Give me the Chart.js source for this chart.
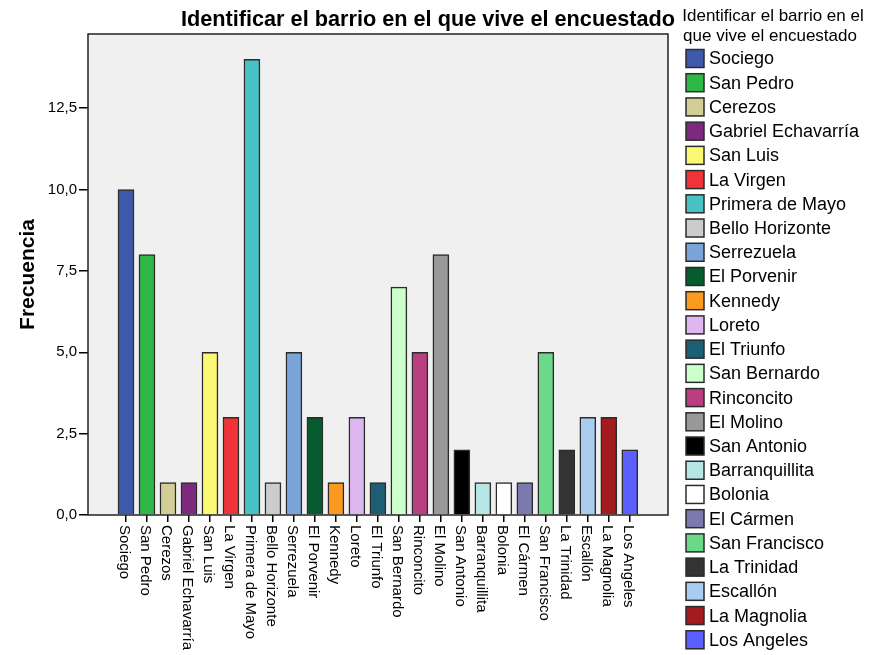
<!DOCTYPE html>
<html>
<head>
<meta charset="utf-8">
<script src="https://cdn.jsdelivr.net/npm/chart.js@4/dist/chart.umd.min.js"></script>
<style>
body{margin:0;background:#fff;}
#wrap{width:874px;height:655px;}
</style>
</head>
<body>
<div id="wrap"><canvas id="barrioChart" width="874" height="655"></canvas></div>
<script>
// frecuencia por barrio
const barrios = ['Sociego','San Pedro','Cerezos','Gabriel Echavarría','San Luis','La Virgen','Primera de Mayo','Bello Horizonte','Serrezuela','El Porvenir','Kennedy','Loreto','El Triunfo','San Bernardo','Rinconcito','El Molino','San Antonio','Barranquillita','Bolonia','El Cármen','San Francisco','La Trinidad','Escallón','La Magnolia','Los Angeles'];
const frecuencias = [10,8,1,1,5,3,14,1,5,3,1,3,1,7,5,8,2,1,1,1,5,2,3,3,2];
const colores = ['#3e58ac','#2eb848','#d3ce97','#7b2a7e','#fbf873','#ef3338','#48c2c5','#cccccc','#7ba4d9','#065b2f','#fa9a1e','#deb7f0','#1c5e73','#ccffcc','#b93f80','#999999','#000000','#b6e6e6','#ffffff','#7b7aae','#6bd88a','#333333','#aacdef','#a31a1f','#5a5ffe'];
const yTicks = [0,2.5,5,7.5,10,12.5];
const titulo = 'Identificar el barrio en el que vive el encuestado';
const leyendaTitulo = ['Identificar el barrio en el','que vive el encuestado'];

const FONT = '"Liberation Sans", Arial, sans-serif';

// fondo gris, marco, etiquetas giradas, titulo y leyenda
const extras = {
  id:'extras',
  beforeDraw(chart){
    const {ctx, chartArea:a} = chart;
    ctx.save();
    ctx.fillStyle = '#f0f0f0';
    ctx.fillRect(a.left, a.top, a.right-a.left, a.bottom-a.top);
    ctx.restore();
  },
  afterDraw(chart){
    const {ctx, chartArea:a} = chart;
    const xs = chart.scales.x;
    ctx.save();
    ctx.strokeStyle = '#222'; ctx.lineWidth = 1.5;
    ctx.strokeRect(a.left, a.top, a.right-a.left, a.bottom-a.top);

    // etiquetas del eje x, leidas de arriba hacia abajo
    ctx.fillStyle = '#000';
    ctx.font = '15px ' + FONT;
    ctx.textAlign = 'left'; ctx.textBaseline = 'middle';
    barrios.forEach((b,i)=>{
      const x = xs.getPixelForValue(i);
      ctx.save();
      ctx.translate(x-2, a.bottom+10);
      ctx.rotate(Math.PI/2);
      ctx.fillText(b, 0, 0);
      ctx.restore();
    });

    // titulo
    ctx.font = 'bold 21.7px ' + FONT;
    ctx.textAlign = 'center'; ctx.textBaseline = 'alphabetic';
    ctx.fillText(titulo, 428, 26);

    // leyenda
    ctx.font = '17px ' + FONT;
    ctx.fillText(leyendaTitulo[0], 773, 21);
    ctx.fillText(leyendaTitulo[1], 770, 41);
    ctx.font = '18px ' + FONT;
    ctx.textAlign = 'left'; ctx.textBaseline = 'middle';
    barrios.forEach((b,i)=>{
      const y = 49.5 + i*24.22;
      ctx.fillStyle = colores[i];
      ctx.fillRect(686, y, 18, 18);
      ctx.strokeStyle = '#2b2b2b'; ctx.lineWidth = 1.5;
      ctx.strokeRect(686, y, 18, 18);
      ctx.fillStyle = '#000';
      ctx.fillText(b, 709, y+10);
    });
    ctx.restore();
  }
};

new Chart(document.getElementById('barrioChart').getContext('2d'), {
  type:'bar',
  data:{
    datasets:[{
      label:'Frecuencia',
      data: frecuencias.map((v,i)=>({x:i, y:v})),
      backgroundColor: colores,
      borderColor:'#2b2b2b',
      borderWidth:1.5,
      barThickness:16
    }]
  },
  options:{
    responsive:false,
    animation:false,
    layout:{padding:{left:0, top:34, right:206, bottom:0}},
    plugins:{legend:{display:false}, title:{display:false}, tooltip:{enabled:false}},
    scales:{
      x:{
        type:'linear', min:-1.81, max:25.82, offset:false,
        afterBuildTicks(s){ s.ticks = barrios.map((_,i)=>({value:i})); },
        afterFit(s){ s.height = 140; },
        ticks:{display:false},
        grid:{display:true, offset:false, drawOnChartArea:false, drawTicks:true, tickLength:7, color:'#000', lineWidth:1.5},
        border:{display:false}
      },
      y:{
        min:0, max:14.78,
        afterBuildTicks(s){ s.ticks = yTicks.map(v=>({value:v})); },
        afterFit(s){ s.width = 88; },
        ticks:{
          color:'#000', padding:2,
          font:{family:FONT, size:15},
          callback:v=>v.toFixed(1).replace('.', ',')
        },
        grid:{display:true, drawOnChartArea:false, drawTicks:true, tickLength:9, color:'#000', lineWidth:1.5},
        border:{display:false},
        title:{display:true, text:'Frecuencia', color:'#000', font:{family:FONT, size:21, weight:'bold'}, padding:{top:16}}
      }
    }
  },
  plugins:[extras]
});
</script>
</body>
</html>
